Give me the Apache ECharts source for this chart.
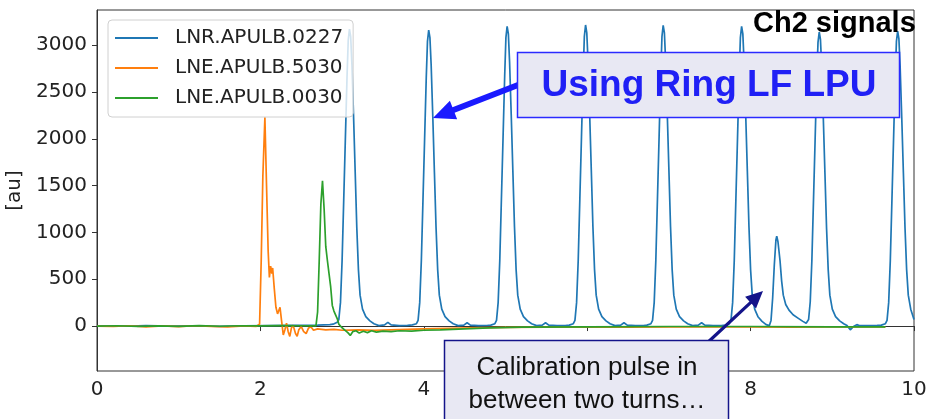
<!DOCTYPE html>
<html>
<head>
<meta charset="utf-8">
<script src="https://cdn.jsdelivr.net/npm/echarts@6/dist/echarts.min.js"></script>
<style>
html,body{margin:0;padding:0;background:#fff;}
#chart{width:932px;height:419px;}
</style>
</head>
<body>
<div id="chart"></div>
<script>
// ---- data ----
const seriesNames = ['LNR.APULB.0227', 'LNE.APULB.5030', 'LNE.APULB.0030'];
const xTicks = [0, 2, 4, 6, 8, 10];
const yTicks = [0, 500, 1000, 1500, 2000, 2500, 3000];

const blue = [
  [0,3],[0.3,-2],[0.6,4],[0.9,0],[1.2,3],[1.5,-3],[1.8,2],[2.1,6],[2.4,8],[2.7,10],[2.85,15],[2.89,20],
  [2.94,40],[2.96,70],[2.98,250],[3.00,700],[3.02,1350],[3.04,2000],[3.06,2650],[3.075,3050],[3.09,3170],[3.105,3090],[3.12,2800],[3.14,2250],[3.16,1650],[3.18,1050],[3.20,600],[3.22,330],[3.25,180],[3.29,100],[3.34,55],[3.39,25],[3.45,5],[3.52,12],[3.56,40],[3.60,12],[3.70,5],[3.80,8],
  [3.86,12],[3.91,25],[3.93,60],[3.95,250],[3.97,700],[3.99,1350],[4.01,2000],[4.03,2650],[4.045,3040],[4.06,3160],[4.075,3080],[4.09,2790],[4.11,2240],[4.13,1640],[4.15,1050],[4.17,600],[4.19,330],[4.22,180],[4.26,100],[4.31,55],[4.36,25],[4.42,5],[4.49,10],[4.53,35],[4.57,10],[4.67,4],[4.77,6],
  [4.82,10],[4.87,25],[4.89,60],[4.91,250],[4.93,700],[4.95,1360],[4.97,2010],[4.99,2670],[5.005,3080],[5.02,3200],[5.035,3120],[5.05,2820],[5.07,2260],[5.09,1660],[5.11,1060],[5.13,600],[5.15,330],[5.18,180],[5.22,100],[5.27,55],[5.32,25],[5.38,5],[5.45,10],[5.49,35],[5.53,10],[5.63,5],[5.73,6],
  [5.78,10],[5.83,25],[5.85,60],[5.87,250],[5.89,700],[5.91,1360],[5.93,2020],[5.95,2680],[5.965,3090],[5.98,3215],[5.995,3130],[6.01,2830],[6.03,2270],[6.05,1670],[6.07,1060],[6.09,600],[6.11,330],[6.14,180],[6.18,100],[6.23,55],[6.28,25],[6.34,5],[6.41,10],[6.45,35],[6.49,10],[6.59,5],[6.69,6],
  [6.73,10],[6.78,25],[6.80,60],[6.82,250],[6.84,700],[6.86,1360],[6.88,2020],[6.90,2680],[6.915,3090],[6.93,3210],[6.945,3130],[6.96,2830],[6.98,2270],[7.00,1670],[7.02,1060],[7.04,600],[7.06,330],[7.09,180],[7.13,100],[7.18,55],[7.23,25],[7.29,5],[7.36,10],[7.40,35],[7.44,10],[7.54,5],[7.64,6],
  [7.69,10],[7.74,25],[7.76,60],[7.78,250],[7.80,700],[7.82,1360],[7.84,2010],[7.86,2670],[7.875,3080],[7.89,3200],[7.905,3120],[7.92,2820],[7.94,2260],[7.96,1660],[7.98,1060],[8.00,600],[8.02,330],[8.05,180],[8.09,100],[8.14,50],[8.19,15],[8.23,5],
  [8.25,60],[8.27,300],[8.29,650],[8.31,920],[8.32,960],[8.335,900],[8.36,700],[8.38,480],[8.40,330],[8.43,230],[8.47,170],[8.52,120],[8.58,85],[8.64,50],[8.68,30],
  [8.71,70],[8.73,260],[8.75,700],[8.77,1350],[8.79,2000],[8.81,2650],[8.825,3030],[8.84,3140],[8.855,3060],[8.87,2770],[8.89,2220],[8.91,1630],[8.93,1040],[8.95,600],[8.97,330],[9.00,180],[9.04,100],[9.09,55],[9.14,25],[9.18,5],[9.22,-40],[9.26,-5],[9.30,15],[9.33,5],[9.45,5],[9.55,8],
  [9.60,10],[9.65,25],[9.67,60],[9.69,250],[9.71,700],[9.73,1350],[9.75,2000],[9.77,2650],[9.785,3040],[9.80,3150],[9.815,3070],[9.83,2780],[9.85,2230],[9.87,1640],[9.89,1050],[9.91,600],[9.93,330],[9.96,180],[10.0,70]
];

const orange = [
  [0,0],[0.2,-5],[0.4,3],[0.6,-8],[0.8,2],[1.0,-6],[1.2,3],[1.4,-4],[1.6,-10],[1.8,2],[1.95,-3],[1.99,20],[2.01,700],[2.03,1600],[2.055,2230],[2.075,1500],[2.095,800],[2.11,520],[2.125,640],[2.14,560],[2.15,620],[2.17,400],[2.19,200],[2.21,130],[2.24,200],[2.26,50],[2.28,-95],[2.30,-40],[2.32,30],[2.34,-60],[2.36,-110],[2.38,-20],[2.40,10],[2.43,-80],[2.45,-110],[2.47,-40],[2.50,-5],[2.53,-60],[2.56,-80],[2.59,-20],[2.62,-10],[2.65,-45],[2.7,-30],[2.8,-40],[2.9,-35],[3.0,-45],[3.2,-40],[3.4,-45],[3.6,-40],[3.8,-35],[4.0,-30],[4.3,-25],[4.6,-20],[5.0,-15],[5.5,-12],[6.0,-10],[6.5,-12],[7,-8],[7.5,-10],[8,-8],[8.5,-12],[9,-8],[9.3,-10],[9.65,-10]
];

const green = [
  [0,0],[0.25,3],[0.5,-4],[0.75,2],[1.0,-3],[1.25,4],[1.5,-2],[1.75,3],[2.0,2],[2.25,5],[2.5,3],[2.68,2],[2.70,150],[2.72,700],[2.74,1300],[2.76,1550],[2.78,1250],[2.80,850],[2.82,700],[2.84,560],[2.86,420],[2.88,220],[2.90,160],[2.92,150],[2.94,80],[2.96,20],[2.99,-10],[3.03,-40],[3.07,-70],[3.10,-100],[3.13,-60],[3.17,-50],[3.21,-75],[3.26,-55],[3.31,-70],[3.36,-50],[3.42,-65],[3.5,-55],[3.6,-60],[3.7,-50],[3.85,-55],[4.0,-45],[4.2,-40],[4.5,-30],[4.8,-20],[5.2,-12],[6,-8],[7,-5],[8,-5],[9,-8],[9.65,-8]
];

// ---- helpers for annotation arrows ----
function arrowPoly(S, T, shaftHalf, headLen, headHalf) {
  const dx = T[0] - S[0], dy = T[1] - S[1];
  const L = Math.hypot(dx, dy);
  const ux = dx / L, uy = dy / L;
  const nx = -uy, ny = ux;
  const B = [T[0] - ux * headLen, T[1] - uy * headLen];
  return [
    [S[0] + nx * shaftHalf, S[1] + ny * shaftHalf],
    [B[0] + nx * shaftHalf, B[1] + ny * shaftHalf],
    [B[0] + nx * headHalf, B[1] + ny * headHalf],
    T,
    [B[0] - nx * headHalf, B[1] - ny * headHalf],
    [B[0] - nx * shaftHalf, B[1] - ny * shaftHalf],
    [S[0] - nx * shaftHalf, S[1] - ny * shaftHalf]
  ];
}

const chart = echarts.init(document.getElementById('chart'), null, {renderer: 'canvas'});
const FONT = 'DejaVu Sans';
const colors = ['#1f77b4', '#ff7f0e', '#2ca02c'];

const option = {
  animation: false,
  backgroundColor: '#fff',
  color: colors,
  grid: {left: 97, right: 18, top: 10, bottom: 48, containLabel: false, outerBoundsMode: 'none',
         show: true, borderColor: '#333', borderWidth: 1, backgroundColor: 'transparent'},
  legend: {
    show: true,
    data: seriesNames,
    left: 108, top: 20,
    orient: 'vertical',
    icon: 'rect',
    itemWidth: 43, itemHeight: 2, itemGap: 8,
    padding: [7, 10, 8, 7],
    backgroundColor: 'rgba(255,255,255,0.8)',
    borderColor: '#d0d0d0', borderWidth: 1, borderRadius: 4,
    textStyle: {fontFamily: FONT, fontSize: 20, lineHeight: 22, color: '#222', padding: [0, 0, 0, 12]},
    z: 10
  },
  xAxis: {
    type: 'value', min: xTicks[0], max: xTicks[xTicks.length - 1], interval: 2,
    axisLine: {show: true, lineStyle: {color: '#333', width: 1}},
    axisTick: {show: true, length: 5, inside: false, lineStyle: {color: '#333'}},
    axisLabel: {fontFamily: FONT, fontSize: 20, color: '#222', margin: 9, formatter: v => String(v)},
    splitLine: {show: false}
  },
  yAxis: {
    type: 'value', min: -480, max: 3375,
    name: '[au]', nameLocation: 'middle', nameGap: 72, nameRotate: 90,
    nameTextStyle: {fontFamily: FONT, fontSize: 20, color: '#222'},
    axisLine: {show: true, lineStyle: {color: '#333', width: 1}},
    axisTick: {show: true, length: 5, inside: false, customValues: yTicks, lineStyle: {color: '#333'}},
    axisLabel: {fontFamily: FONT, fontSize: 20, color: '#222', margin: 10, customValues: yTicks, formatter: v => String(v)},
    splitLine: {show: false}
  },
  series: [
    {name: seriesNames[0], type: 'line', data: blue, symbol: 'none', lineStyle: {width: 1.7, color: colors[0]}, z: 2},
    {name: seriesNames[1], type: 'line', data: orange, symbol: 'none', lineStyle: {width: 1.7, color: colors[1]}, z: 3},
    {name: seriesNames[2], type: 'line', data: green, symbol: 'none', lineStyle: {width: 1.7, color: colors[2]}, z: 4}
  ],
  graphic: [
    {type: 'text', z: 100, style: {text: 'Ch2 signals', x: 753, y: 38, textAlign: 'left', textVerticalAlign: 'bottom', align: 'left', verticalAlign: 'bottom', font: 'bold 29px "Liberation Sans", Arial, sans-serif', fill: '#000'}},
    {type: 'polygon', z: 100, shape: {points: arrowPoly([518, 85], [433, 118], 3, 22, 10)}, style: {fill: '#1a1aff'}},
    {type: 'rect', z: 100, shape: {x: 517.5, y: 52.5, width: 382, height: 65}, style: {fill: '#e8e8f3', stroke: '#2a2aff', lineWidth: 1.5}},
    {type: 'text', z: 101, style: {text: 'Using Ring LF LPU', x: 709, y: 86, textAlign: 'center', textVerticalAlign: 'middle', align: 'center', verticalAlign: 'middle', font: 'bold 37px "Liberation Sans", Arial, sans-serif', fill: '#2020f5'}},
    {type: 'polygon', z: 100, shape: {points: arrowPoly([706, 344], [763, 291], 1.6, 17, 8)}, style: {fill: '#14148a'}},
    {type: 'rect', z: 100, shape: {x: 444.5, y: 340.5, width: 284, height: 100}, style: {fill: '#e8e8f3', stroke: '#14148a', lineWidth: 1.5}},
    {type: 'text', z: 101, style: {text: 'Calibration pulse in', x: 587, y: 368, textAlign: 'center', textVerticalAlign: 'middle', align: 'center', verticalAlign: 'middle', font: '26px "Liberation Sans", Arial, sans-serif', fill: '#111'}},
    {type: 'text', z: 101, style: {text: 'between two turns…', x: 587, y: 401, textAlign: 'center', textVerticalAlign: 'middle', align: 'center', verticalAlign: 'middle', font: '26px "Liberation Sans", Arial, sans-serif', fill: '#111'}}
  ]
};
chart.setOption(option);
</script>
</body>
</html>
